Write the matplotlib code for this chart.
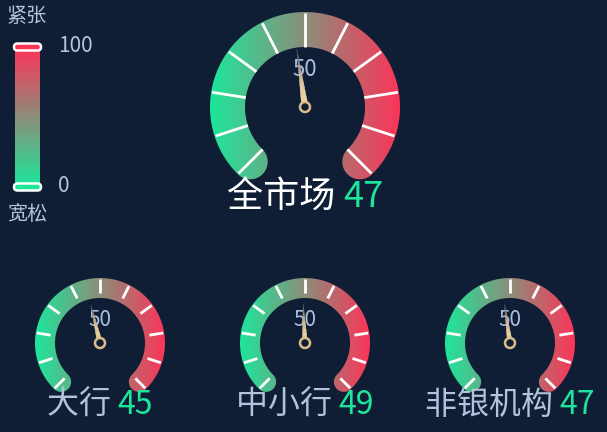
import numpy as np
import matplotlib
matplotlib.use('Agg')
from matplotlib import pyplot as plt
from matplotlib.colors import LinearSegmentedColormap
from matplotlib.patches import PathPatch, Circle, Polygon, FancyBboxPatch
from matplotlib.path import Path

plt.rcParams['font.family'] = ['Noto Sans CJK SC', 'DejaVu Sans']

names = ['全市场', '大行', '中小行', '非银机构']
values = [47, 45, 49, 47]
gauge_min, gauge_max = 0, 100
split_number = 10
legend_top, legend_bottom = '紧张', '宽松'

BG = '#0f1e35'
GREEN = '#1de69b'
RED = '#fb3559'
cmap = LinearSegmentedColormap.from_list('gr', [GREEN, RED])

fig = plt.figure(figsize=(6.07, 4.32), dpi=100, facecolor=BG)
ax = fig.add_axes([0, 0, 1, 1])
ax.set_facecolor(BG)
ax.set_xlim(0, 607)
ax.set_ylim(432, 0)
ax.axis('off')


def pt(cx, cy, r, deg):
    a = np.deg2rad(deg)
    return cx + r * np.cos(a), cy - r * np.sin(a)


def band_path(cx, cy, R, r):
    rm = (R + r) / 2
    hw = (R - r) / 2
    xs, ys = [], []
    t = np.linspace(225, -45, 200)
    x, y = pt(cx, cy, R, t); xs += list(x); ys += list(y)
    ex, ey = pt(cx, cy, rm, -45)
    phi = np.linspace(-45, -225, 40)
    x, y = pt(ex, ey, hw, phi); xs += list(x); ys += list(y)
    t = np.linspace(-45, 225, 200)
    x, y = pt(cx, cy, r, t); xs += list(x); ys += list(y)
    sx, sy = pt(cx, cy, rm, 225)
    phi = np.linspace(405, 225, 40)
    x, y = pt(sx, sy, hw, phi); xs += list(x); ys += list(y)
    verts = np.column_stack([xs, ys])
    return Path(np.vstack([verts, verts[:1]]), closed=True)


def gauge(cx, cy, R, r, value, name, name_color, fs_name, fs_lbl,
          split_in, needle_len, needle_w, lbl_y, text_y):
    path = band_path(cx, cy, R, r)
    patch = PathPatch(path, facecolor='none', edgecolor='none')
    ax.add_patch(patch)
    grad = np.linspace(0, 1, 256).reshape(1, -1)
    im = ax.imshow(grad, cmap=cmap, extent=[cx - R, cx + R, cy + R, cy - R],
                   aspect='auto', zorder=2)
    im.set_clip_path(patch)
    for i in range(split_number + 1):
        deg = 225 - 270 * i / split_number
        x0, y0 = pt(cx, cy, split_in, deg)
        x1, y1 = pt(cx, cy, R - 1, deg)
        ax.plot([x0, x1], [y0, y1], color='white', lw=2, zorder=3,
                solid_capstyle='butt')
    ax.text(cx, lbl_y, '50', color='#a8bde0', fontsize=fs_lbl,
            ha='center', va='center', zorder=4)
    # needle, drawn in pieces so it fades towards the tip
    deg = 225 - 270 * (value - gauge_min) / (gauge_max - gauge_min)
    a = np.deg2rad(deg)
    ux, uy = np.cos(a), -np.sin(a)
    px, py = -uy, ux
    n = 30
    c0 = np.array(matplotlib.colors.to_rgb('#f5d9a8'))
    c1 = np.array(matplotlib.colors.to_rgb('#3a3f4a'))
    for k in range(n):
        s0, s1 = k / n, (k + 1) / n
        w0 = needle_w * (1 - s0) / 2
        w1 = needle_w * (1 - s1) / 2
        d0, d1 = s0 * needle_len, s1 * needle_len
        poly = [(cx + ux * d0 + px * w0, cy + uy * d0 + py * w0),
                (cx + ux * d1 + px * w1, cy + uy * d1 + py * w1),
                (cx + ux * d1 - px * w1, cy + uy * d1 - py * w1),
                (cx + ux * d0 - px * w0, cy + uy * d0 - py * w0)]
        col = c0 + (c1 - c0) * (s0 ** 2.5)
        ax.add_patch(Polygon(poly, closed=True, facecolor=col,
                             edgecolor=col, lw=0.3, zorder=5))
    ax.add_patch(Circle((cx, cy), 5, facecolor=BG, edgecolor='#dcbc8c',
                        lw=1.8, zorder=6))
    # title with coloured value
    t1 = ax.text(0, text_y, name + ' ', color=name_color, fontsize=fs_name,
                 ha='left', va='center', zorder=4)
    t2 = ax.text(0, text_y, str(value), color='#1de69b', fontsize=fs_name,
                 ha='left', va='center', zorder=4)
    return t1, t2


titles = []
titles.append(gauge(305, 107, 95, 60, values[0], names[0], 'white', 26, 16,
                    60, 58, 6.5, 69, 197))
small_x = [100, 305, 510]
for i in range(3):
    titles.append(gauge(small_x[i], 343, 65, 45, values[i + 1], names[i + 1],
                        '#b4c3dc', 23, 15, 50, 39, 5, 320, 405))

# center the two-part titles
fig.canvas.draw()
renderer = fig.canvas.get_renderer()
centers = [305] + small_x
inv = ax.transData.inverted()
for (t1, t2), c in zip(titles, centers):
    b1 = t1.get_window_extent(renderer)
    b2 = t2.get_window_extent(renderer)
    w = (b1.width + b2.width)
    x_left = inv.transform((ax.transData.transform((c, 0))[0] - w / 2, 0))[0]
    t1.set_x(x_left)
    x2 = inv.transform((ax.transData.transform((x_left, 0))[0] + b1.width, 0))[0]
    t2.set_x(x2)

# visual map bar
bar = np.linspace(1, 0, 256).reshape(-1, 1)
ax.imshow(bar, cmap=cmap, extent=[15, 40, 186, 48], aspect='auto', zorder=2)
for yy, col in [(47, RED), (187, GREEN)]:
    ax.add_patch(FancyBboxPatch((14, yy - 3.5), 27, 7,
                                boxstyle='round,pad=0,rounding_size=3.5',
                                facecolor=col, edgecolor='white', lw=1.8,
                                zorder=3))
ax.text(58, 46, '100', color='#b4c3dc', fontsize=15, ha='left', va='center')
ax.text(58, 186, '0', color='#b4c3dc', fontsize=15, ha='left', va='center')
ax.text(7, 17, legend_top, color='#b4c3dc', fontsize=14.5, ha='left',
        va='center')
ax.text(7, 214, legend_bottom, color='#b4c3dc', fontsize=14.5, ha='left',
        va='center')

fig.savefig('out.png', dpi=100, facecolor=BG)
